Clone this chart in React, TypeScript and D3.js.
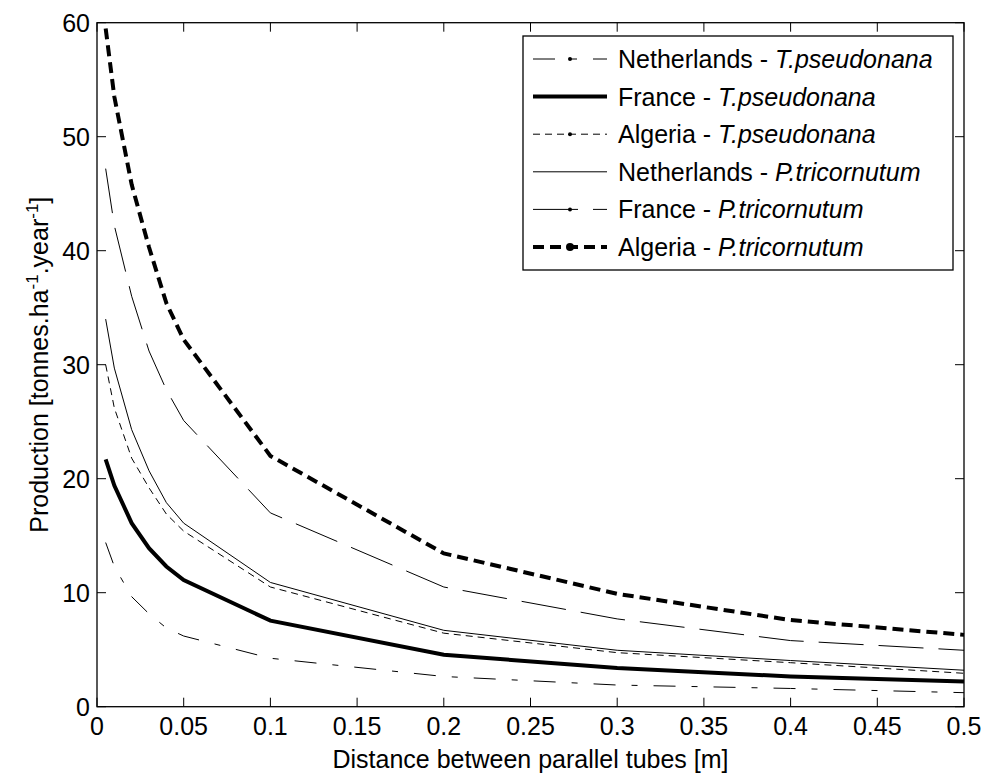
import React from "react";
import * as d3 from "d3";

const xValues = [0.005, 0.01, 0.02, 0.03, 0.04, 0.05, 0.1, 0.2, 0.3, 0.4, 0.5];
const netherlandsTP = [14.4, 12.3, 9.65, 8.15, 6.9, 6.2, 4.25, 2.65, 1.9, 1.6, 1.23];
const franceTP = [21.7, 19.4, 16.1, 13.9, 12.3, 11.1, 7.55, 4.55, 3.4, 2.65, 2.2];
const algeriaTP = [30.0, 26.2, 21.8, 19.2, 16.9, 15.4, 10.5, 6.45, 4.74, 3.86, 2.93];
const netherlandsPT = [34.0, 29.7, 24.3, 20.7, 17.9, 16.1, 10.9, 6.7, 4.95, 4.05, 3.2];
const francePT = [47.2, 42.2, 36.0, 31.2, 27.8, 25.1, 17.0, 10.5, 7.7, 5.8, 4.95];
const algeriaPT = [59.5, 53.5, 45.8, 40.3, 35.4, 32.2, 22.0, 13.45, 9.9, 7.6, 6.3];

const xTicks = [0, 0.05, 0.1, 0.15, 0.2, 0.25, 0.3, 0.35, 0.4, 0.45, 0.5];
const yTicks = [0, 10, 20, 30, 40, 50, 60];

const seriesNames = [
  ["Netherlands", "T.pseudonana"],
  ["France", "T.pseudonana"],
  ["Algeria", "T.pseudonana"],
  ["Netherlands", "P.tricornutum"],
  ["France", "P.tricornutum"],
  ["Algeria", "P.tricornutum"],
];
const seriesValues = [netherlandsTP, franceTP, algeriaTP, netherlandsPT, francePT, algeriaPT];

const styles = [
  { w: 1, dash: "22,16,6,16", dot: 2 },
  { w: 4, dash: "", dot: 0 },
  { w: 1, dash: "7,5", dot: 2 },
  { w: 1, dash: "", dot: 0 },
  { w: 1, dash: "45,15", dot: 2 },
  { w: 4, dash: "11,6", dot: 4 },
];

const W = 986;
const H = 776;
const L = 97, R = 964, T = 22.7, B = 706.7;
const FONT = "'Liberation Sans', Arial, sans-serif";
const FS = 25;

export default function App() {
  const x = d3.scaleLinear().domain([0, 0.5]).range([L, R]);
  const y = d3.scaleLinear().domain([0, 60]).range([B, T]);
  const line = d3
    .line<number>()
    .x((_, i) => x(xValues[i]))
    .y((d) => y(d));
  const tk = 9;

  const legL = 523, legR = 953, legT = 36, legB = 270;
  const rowY = (i: number) => 59 + i * 37.6;
  const sx0 = 533, sx1 = 607;

  return (
    <svg
      width={W}
      height={H}
      style={{ position: "absolute", left: 0, top: 0, background: "#fff" }}
      fontFamily={FONT}
    >
      <rect x={0} y={0} width={W} height={H} fill="#fff" />
      {seriesValues.map((vals, i) => (
        <path
          key={i}
          d={line(vals) || ""}
          fill="none"
          stroke="#000"
          strokeWidth={styles[i].w}
          strokeDasharray={styles[i].dash || undefined}
          strokeLinejoin="miter"
          strokeLinecap="butt"
        />
      ))}
      {/* axes box */}
      <rect x={L} y={T} width={R - L} height={B - T} fill="none" stroke="#000" strokeWidth={1.3} />
      {xTicks.map((t, i) => (
        <g key={"xt" + i}>
          <line x1={x(t)} x2={x(t)} y1={B} y2={B - tk} stroke="#000" strokeWidth={1} />
          <line x1={x(t)} x2={x(t)} y1={T} y2={T + tk} stroke="#000" strokeWidth={1} />
          <text x={x(t)} y={735} textAnchor="middle" fontSize={FS}>
            {String(t)}
          </text>
        </g>
      ))}
      {yTicks.map((t, i) => (
        <g key={"yt" + i}>
          <line x1={L} x2={L + tk} y1={y(t)} y2={y(t)} stroke="#000" strokeWidth={1} />
          <line x1={R} x2={R - tk} y1={y(t)} y2={y(t)} stroke="#000" strokeWidth={1} />
          <text x={90} y={y(t) + 9} textAnchor="end" fontSize={FS}>
            {String(t)}
          </text>
        </g>
      ))}
      <text x={(L + R) / 2} y={768} textAnchor="middle" fontSize={FS}>
        Distance between parallel tubes [m]
      </text>
      <text
        transform={`translate(48,${(T + B) / 2}) rotate(-90)`}
        textAnchor="middle"
        fontSize={FS}
      >
        Production [tonnes.ha
        <tspan fontSize={17} dy={-10}>-1</tspan>
        <tspan dy={10}>.year</tspan>
        <tspan fontSize={17} dy={-10}>-1</tspan>
        <tspan dy={10}>]</tspan>
      </text>
      {/* legend */}
      <rect x={legL} y={legT} width={legR - legL} height={legB - legT} fill="#fff" stroke="#000" strokeWidth={1.3} />
      {seriesNames.map((n, i) => (
        <g key={"lg" + i}>
          <line
            x1={sx0}
            x2={sx1}
            y1={rowY(i)}
            y2={rowY(i)}
            stroke="#000"
            strokeWidth={styles[i].w}
            strokeDasharray={styles[i].dash || undefined}
          />
          {styles[i].dot > 0 && <circle cx={570} cy={rowY(i)} r={styles[i].dot} fill="#000" />}
          <text x={618} y={rowY(i) + 9} fontSize={FS}>
            {n[0]} - <tspan fontStyle="italic">{n[1]}</tspan>
          </text>
        </g>
      ))}
    </svg>
  );
}
